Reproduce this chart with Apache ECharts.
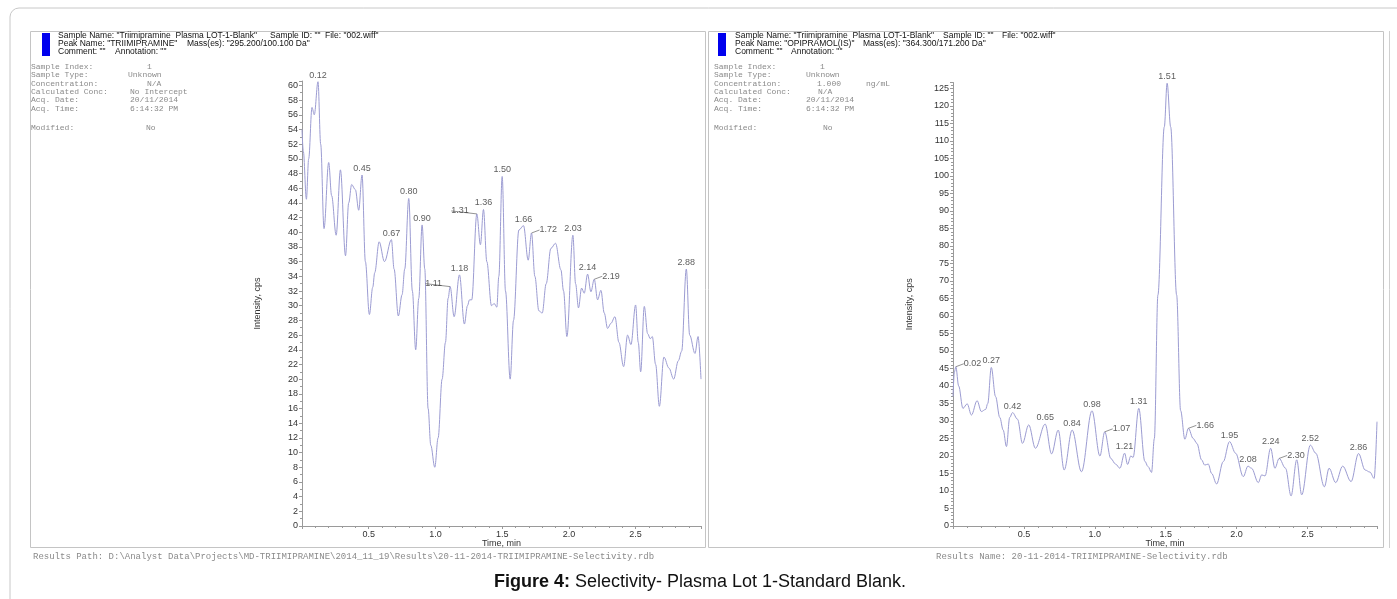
<!DOCTYPE html>
<html>
<head>
<meta charset="utf-8">
<script src="https://cdn.jsdelivr.net/npm/echarts@6/dist/echarts.min.js"></script>
<style>
  html, body { margin: 0; padding: 0; background: #fff; }
  #chart { width: 1397px; height: 599px; }
</style>
</head>
<body>
<div id="chart"></div>
<script>
// TRIIMIPRAMINE trace (295.200/100.100 Da): time (min) and intensity (cps)
const L_TIME = [0.000, 0.010, 0.033, 0.050, 0.075, 0.092, 0.120, 0.140, 0.165, 0.200,
  0.222, 0.256, 0.288, 0.326, 0.350, 0.372, 0.400, 0.425, 0.450, 0.475,
  0.505, 0.530, 0.545, 0.578, 0.618, 0.670, 0.690, 0.722, 0.750, 0.770,
  0.800, 0.827, 0.852, 0.875, 0.900, 0.920, 0.945, 0.965, 0.995, 1.020,
  1.050, 1.075, 1.095, 1.110, 1.140, 1.180, 1.217, 1.240, 1.255, 1.272,
  1.310, 1.337, 1.360, 1.385, 1.420, 1.440, 1.460, 1.475, 1.500, 1.525,
  1.560, 1.585, 1.625, 1.660, 1.695, 1.720, 1.745, 1.775, 1.800, 1.830,
  1.865, 1.900, 1.940, 1.960, 1.985, 2.030, 2.050, 2.072, 2.095, 2.115,
  2.140, 2.165, 2.190, 2.215, 2.240, 2.265, 2.290, 2.315, 2.345, 2.375,
  2.410, 2.440, 2.465, 2.500, 2.520, 2.538, 2.565, 2.590, 2.610, 2.625,
  2.650, 2.678, 2.712, 2.750, 2.785, 2.820, 2.845, 2.880, 2.905, 2.945,
  2.968, 2.990];
const L_INT = [54.0, 51.0, 44.5, 50.0, 57.0, 56.0, 60.5, 52.0, 40.5, 49.5,
  45.0, 39.6, 48.5, 36.8, 44.0, 46.5, 45.8, 43.0, 47.8, 36.0,
  28.8, 32.5, 34.5, 38.7, 36.0, 39.0, 35.0, 28.6, 31.5, 35.0,
  44.6, 32.0, 24.0, 31.0, 41.0, 35.0, 16.0, 11.0, 8.0, 12.0,
  20.0, 25.0, 31.0, 32.6, 28.5, 34.2, 27.5, 30.0, 30.8, 30.8,
  42.5, 38.3, 43.1, 36.0, 30.0, 30.3, 29.8, 34.0, 47.6, 32.0,
  20.0, 28.0, 40.3, 40.9, 36.2, 39.9, 34.0, 29.3, 29.0, 33.0,
  37.8, 38.5, 34.9, 32.0, 25.8, 39.6, 33.0, 29.7, 32.4, 31.7,
  34.3, 31.9, 33.6, 30.8, 32.1, 29.0, 26.9, 27.6, 28.5, 25.0,
  21.7, 26.0, 24.7, 30.1, 25.0, 21.0, 29.9, 26.2, 25.5, 25.8,
  22.0, 16.3, 23.0, 21.5, 20.0, 22.5, 23.8, 35.0, 26.0, 23.5,
  25.8, 20.0];
const L_PEAKS = ['0.12', '0.45', '0.67', '0.80', '0.90', '1.11', '1.18', '1.31', '1.36',
  '1.50', '1.66', '1.72', '2.03', '2.14', '2.19', '2.88'];
const L_LEFT = ['1.11', '1.31'];
const L_RIGHT = ['1.72', '2.19'];

// OPIPRAMOL(IS) trace (364.300/171.200 Da)
const R_TIME = [0.000, 0.010, 0.020, 0.040, 0.070, 0.100, 0.130, 0.170, 0.200, 0.230,
  0.245, 0.270, 0.300, 0.330, 0.354, 0.377, 0.400, 0.420, 0.455, 0.490,
  0.534, 0.581, 0.650, 0.695, 0.742, 0.784, 0.840, 0.906, 0.980, 1.036,
  1.070, 1.113, 1.146, 1.177, 1.210, 1.231, 1.254, 1.270, 1.310, 1.353,
  1.375, 1.400, 1.420, 1.445, 1.490, 1.510, 1.535, 1.577, 1.605, 1.635,
  1.660, 1.694, 1.720, 1.753, 1.775, 1.800, 1.824, 1.859, 1.906, 1.950,
  1.993, 2.047, 2.080, 2.105, 2.153, 2.177, 2.200, 2.240, 2.270, 2.300,
  2.345, 2.384, 2.424, 2.459, 2.520, 2.558, 2.619, 2.652, 2.699, 2.748,
  2.807, 2.860, 2.906, 2.940, 2.970, 2.990];
const R_INT = [37.0, 44.0, 45.5, 40.0, 33.6, 34.9, 31.7, 35.8, 32.7, 33.3,
  35.0, 45.3, 37.0, 31.0, 27.4, 22.7, 31.0, 32.4, 30.5, 23.6,
  28.9, 22.2, 29.1, 20.6, 27.4, 16.0, 27.4, 15.5, 32.9, 20.0,
  26.9, 19.3, 17.7, 16.5, 20.8, 17.6, 20.0, 19.6, 33.6, 18.5,
  17.0, 15.3, 25.0, 66.0, 114.0, 126.5, 114.0, 66.0, 33.0, 24.8,
  27.9, 25.0, 23.6, 18.9, 17.4, 17.7, 15.0, 12.0, 18.4, 24.1,
  20.8, 14.1, 17.1, 16.5, 12.4, 14.6, 14.3, 22.2, 16.5, 19.3,
  16.5, 8.6, 18.9, 8.9, 23.1, 20.8, 11.2, 16.5, 12.4, 17.1,
  12.7, 20.7, 16.0, 15.4, 13.6, 29.8];
const R_PEAKS = ['0.02', '0.27', '0.42', '0.65', '0.84', '0.98', '1.07', '1.21', '1.31',
  '1.51', '1.66', '1.95', '2.08', '2.24', '2.30', '2.52', '2.86'];
const R_LEFT = [];
const R_RIGHT = ['0.02', '1.07', '1.66', '2.30'];

const SANS = '"Liberation Sans", Arial, sans-serif';
const MONO = '"Liberation Mono", "Courier New", monospace';
const TRACE = '#9c9cd2';
const AXIS = '#9a9a9a';
const INK = '#333';

function pairs(ts, vs) { return ts.map((t, i) => [t, vs[i]]); }

// peak markers take their height from the trace at the labelled retention time
function peakData(ts, vs, peaks, leftOnes, rightOnes) {
  return peaks.map(p => {
    const i = ts.findIndex(t => t.toFixed(2) === p);
    const item = { value: [ts[i], vs[i]], name: p };
    if (leftOnes.includes(p)) {
      item.label = { position: 'left', distance: 5, offset: [0, -3] };
      item.labelLine = { show: true };
      item.side = -1;
    } else if (rightOnes.includes(p)) {
      item.label = { position: 'right', distance: 5, offset: [0, -3] };
      item.labelLine = { show: true };
      item.side = 1;
    }
    return item;
  });
}

function xAxis(gridIndex) {
  return {
    type: 'value', gridIndex, min: 0, max: 2.99, interval: 0.5,
    name: 'Time, min', nameLocation: 'middle', nameGap: 13, nameMoveOverlap: false,
    nameTextStyle: { fontFamily: SANS, fontSize: 9, color: INK },
    axisLine: { show: true, onZero: false, lineStyle: { color: AXIS, width: 1 } },
    axisTick: { show: true, length: 3, lineStyle: { color: AXIS } },
    minorTick: { show: true, splitNumber: 5, length: 2, lineStyle: { color: AXIS } },
    axisLabel: {
      fontFamily: SANS, fontSize: 9, color: INK, margin: 4,
      formatter: v => (v > 0.01 && v < 2.9) ? v.toFixed(1) : ''
    },
    splitLine: { show: false }
  };
}

function yAxis(gridIndex, max, step, minorSplit, nameGap) {
  return {
    type: 'value', gridIndex, min: 0, max, interval: step,
    name: 'Intensity, cps', nameLocation: 'middle', nameGap, nameMoveOverlap: false,
    nameTextStyle: { fontFamily: SANS, fontSize: 9, color: INK },
    axisLine: { show: true, lineStyle: { color: AXIS, width: 1 } },
    axisTick: { show: true, length: 3, lineStyle: { color: AXIS } },
    minorTick: { show: true, splitNumber: minorSplit, length: 2, lineStyle: { color: AXIS } },
    axisLabel: {
      fontFamily: SANS, fontSize: 9, color: INK, margin: 4,
      formatter: v => (v <= max - 0.5) ? String(v) : ''
    },
    splitLine: { show: false }
  };
}

function traceSeries(idx, ts, vs) {
  return {
    type: 'line', xAxisIndex: idx, yAxisIndex: idx,
    data: pairs(ts, vs), smooth: 0.35, smoothMonotone: 'x',
    showSymbol: false, symbol: 'none', silent: true,
    lineStyle: { color: TRACE, width: 1 }, z: 2
  };
}

function peakSeries(idx, items) {
  return {
    type: 'scatter', xAxisIndex: idx, yAxisIndex: idx,
    data: items, symbolSize: 0, silent: true, z: 3,
    label: {
      show: true, position: 'top', distance: 2,
      formatter: p => p.name, fontFamily: SANS, fontSize: 9, color: INK
    },
    labelLine: { show: false, length2: 0, lineStyle: { color: '#777', width: 0.8 } },
    labelLayout: p => {
      const it = items[p.dataIndex];
      if (!it.side) return {};
      return { dx: it.side * 3, dy: -3 };
    }
  };
}

// fixed page furniture: panels, headers, footers and caption
function txt(x, y, text, font, size, color, extra) {
  return Object.assign({
    type: 'text', x, y, silent: true,
    style: { text, font: size + 'px ' + font, fill: color, textVerticalAlign: 'middle' }
  }, extra || {});
}

const G = [];
G.push({ type: 'rect', shape: { x: 10, y: 8, width: 1420, height: 640, r: 9 },
  style: { fill: 'none', stroke: '#c8c8c8', lineWidth: 1 }, silent: true });
G.push({ type: 'rect', shape: { x: 30.5, y: 31.5, width: 675, height: 516 },
  style: { fill: 'none', stroke: '#c4c4c4', lineWidth: 1 }, silent: true });
G.push({ type: 'rect', shape: { x: 708.5, y: 31.5, width: 675, height: 516 },
  style: { fill: 'none', stroke: '#c4c4c4', lineWidth: 1 }, silent: true });
G.push({ type: 'line', shape: { x1: 1389.5, y1: 31, x2: 1389.5, y2: 548 },
  style: { stroke: '#d0d0d0', lineWidth: 1 }, silent: true });

// blue sample markers
G.push({ type: 'rect', shape: { x: 42, y: 33, width: 8, height: 23 }, style: { fill: '#0000ee' }, silent: true });
G.push({ type: 'rect', shape: { x: 718, y: 33, width: 8, height: 23 }, style: { fill: '#0000ee' }, silent: true });

const HS = 8.5;
const HY = [36, 44, 52];
// left header
G.push(txt(58, HY[0], 'Sample Name: "Triimipramine  Plasma LOT-1-Blank"', SANS, HS, '#111'));
G.push(txt(270, HY[0], 'Sample ID: ""', SANS, HS, '#111'));
G.push(txt(325, HY[0], 'File: "002.wiff"', SANS, HS, '#111'));
G.push(txt(58, HY[1], 'Peak Name: "TRIIMIPRAMINE"', SANS, HS, '#111'));
G.push(txt(187, HY[1], 'Mass(es): "295.200/100.100 Da"', SANS, HS, '#111'));
G.push(txt(58, HY[2], 'Comment: ""', SANS, HS, '#111'));
G.push(txt(115, HY[2], 'Annotation: ""', SANS, HS, '#111'));
// right header
G.push(txt(735, HY[0], 'Sample Name: "Triimipramine  Plasma LOT-1-Blank"', SANS, HS, '#111'));
G.push(txt(943, HY[0], 'Sample ID: ""', SANS, HS, '#111'));
G.push(txt(1002, HY[0], 'File: "002.wiff"', SANS, HS, '#111'));
G.push(txt(735, HY[1], 'Peak Name: "OPIPRAMOL(IS)"', SANS, HS, '#111'));
G.push(txt(863, HY[1], 'Mass(es): "364.300/171.200 Da"', SANS, HS, '#111'));
G.push(txt(735, HY[2], 'Comment: ""', SANS, HS, '#111'));
G.push(txt(791, HY[2], 'Annotation: ""', SANS, HS, '#111'));

const MS = 8;
const MC = '#8a8a8a';
const rowsY = [67, 75, 83.5, 92, 100, 108.5, 128];
const keysL = ['Sample Index:', 'Sample Type:', 'Concentration:', 'Calculated Conc:', 'Acq. Date:', 'Acq. Time:', 'Modified:'];
const valsL = [[147, '1'], [128, 'Unknown'], [147, 'N/A'], [130, 'No Intercept'], [130, '20/11/2014'], [130, '6:14:32 PM'], [146, 'No']];
const valsR = [[820, '1'], [806, 'Unknown'], [817, '1.000'], [818, 'N/A'], [806, '20/11/2014'], [806, '6:14:32 PM'], [823, 'No']];
keysL.forEach((k, i) => {
  G.push(txt(31, rowsY[i], k, MONO, MS, MC));
  G.push(txt(valsL[i][0], rowsY[i], valsL[i][1], MONO, MS, MC));
  G.push(txt(714, rowsY[i], k, MONO, MS, MC));
  G.push(txt(valsR[i][0], rowsY[i], valsR[i][1], MONO, MS, MC));
});
G.push(txt(866, rowsY[2], 'ng/mL', MONO, MS, MC));

// footers
G.push(txt(33, 557, 'Results Path: D:\\Analyst Data\\Projects\\MD-TRIIMIPRAMINE\\2014_11_19\\Results\\20-11-2014-TRIIMIPRAMINE-Selectivity.rdb', MONO, 9, MC));
G.push(txt(936, 557, 'Results Name: 20-11-2014-TRIIMIPRAMINE-Selectivity.rdb', MONO, 9, MC));

// caption
G.push({
  type: 'text', x: 700, y: 582, silent: true,
  style: {
    text: '{b|Figure 4:} Selectivity- Plasma Lot 1-Standard Blank.',
    font: '18px ' + SANS, fill: '#111', textAlign: 'center', textVerticalAlign: 'middle',
    rich: { b: { fontWeight: 'bold', fontSize: 18, fontFamily: SANS, fill: '#111' } }
  }
});

const chart = echarts.init(document.getElementById('chart'), null, { renderer: 'canvas' });
chart.setOption({
  animation: false,
  backgroundColor: '#fff',
  grid: [
    { left: 302, top: 81, width: 399, height: 445 },
    { left: 953, top: 82.5, width: 424, height: 443.5 }
  ],
  xAxis: [xAxis(0), xAxis(1)],
  yAxis: [yAxis(0, 60.6, 2, 2, 40), yAxis(1, 126.7, 5, 5, 39)],
  series: [
    traceSeries(0, L_TIME, L_INT),
    peakSeries(0, peakData(L_TIME, L_INT, L_PEAKS, L_LEFT, L_RIGHT)),
    traceSeries(1, R_TIME, R_INT),
    peakSeries(1, peakData(R_TIME, R_INT, R_PEAKS, R_LEFT, R_RIGHT))
  ],
  graphic: G
});
</script>
</body>
</html>
